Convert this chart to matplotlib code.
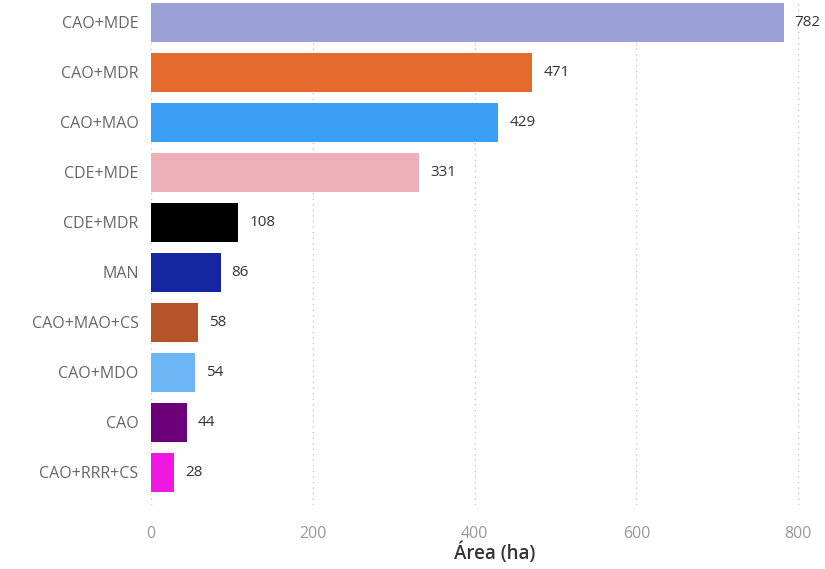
import matplotlib.pyplot as plt

plt.rcParams['font.family'] = ['Open Sans', 'DejaVu Sans']

# data
categories = ["CAO+MDE", "CAO+MDR", "CAO+MAO", "CDE+MDE", "CDE+MDR",
              "MAN", "CAO+MAO+CS", "CAO+MDO", "CAO", "CAO+RRR+CS"]
areas = [782, 471, 429, 331, 108, 86, 58, 54, 44, 28]
colors = ["#9A9FD6", "#E46A2E", "#3A9EF5", "#EDB0B8", "#000000",
          "#1527A0", "#B5532A", "#6CB8F6", "#6B0078", "#F018E0"]
xticks = [0, 200, 400, 600, 800]

fig = plt.figure(figsize=(8.25, 5.69), dpi=100)
W, H = 825, 569
xmax = 825
px_per_unit = 0.809
ax = fig.add_axes([151 / W, 64 / H, xmax * px_per_unit / W, 505 / H])

pos = list(range(len(categories)))
ax.barh(pos, areas, height=0.78, color=colors, zorder=3)

for p, v in zip(pos, areas):
    ax.annotate(str(v), (v, p), xytext=(8, 0), textcoords="offset points",
                va="center", ha="left", fontsize=11, color="#333333")

ax.set_ylim(9.66, -0.44)
ax.set_xlim(0, xmax)
ax.set_yticks(pos)
ax.set_yticklabels(categories, fontsize=11.5, color="#666666")
ax.set_xticks(xticks)
ax.set_xticklabels([str(t) for t in xticks], fontsize=11.5, color="#999999")
ax.tick_params(axis="both", length=0)
ax.tick_params(axis="y", pad=9)
ax.tick_params(axis="x", pad=15)

for s in ax.spines.values():
    s.set_visible(False)
ax.grid(axis="x", linestyle=(0, (1, 3)), color="#C8C8C8", linewidth=1, zorder=0)

ax.set_xlabel("Área (ha)", fontsize=13.5, color="#333333", fontweight="semibold")
ax.xaxis.set_label_coords(425 / xmax, -0.075)

fig.savefig("out.png", dpi=100)
